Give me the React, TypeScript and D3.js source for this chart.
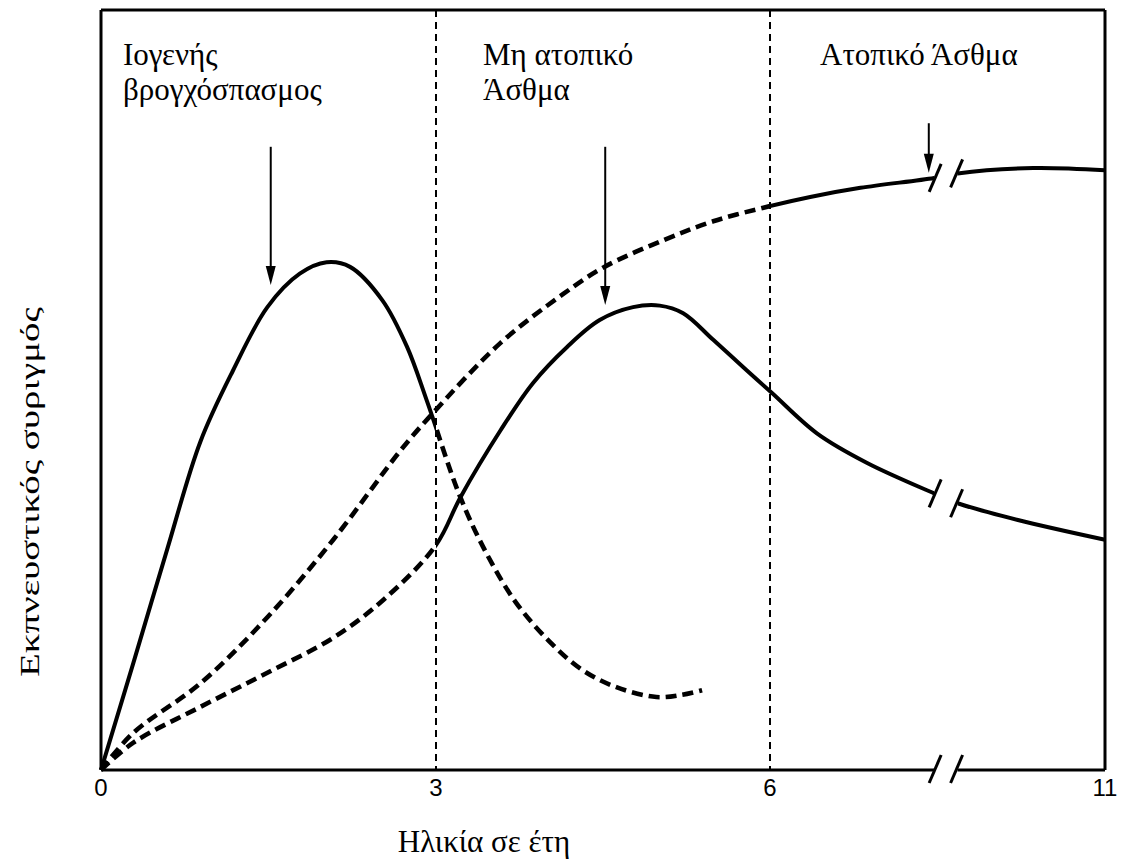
import React from "react";
import * as d3 from "d3";

type P = [number, number];

// x: age in years (broken axis after ~8.5), y: wheeze prevalence (arbitrary units 0-100)
const xTicks = [0, 3, 6, 11];
const xTickLabels = ["0", "3", "6", "11"];
const dividers = [3, 6];
const breakStart = 8.45;
const breakEnd = 8.8;

// Transient (viral) wheeze: solid until 3 years, dashed after
const transient: P[] = [
  [0, 0], [0.29, 14.1], [0.59, 28.9], [0.89, 43.2], [1.18, 52.5], [1.49, 60.9],
  [1.78, 65.3], [2.02, 66.8], [2.23, 66.2], [2.52, 61.8], [2.74, 55.7], [2.92, 48.5],
  [3.21, 36.2], [3.45, 28.6], [3.72, 22.0], [4.02, 16.9], [4.31, 13.2],
  [4.62, 10.9], [4.98, 9.6], [5.21, 9.9], [5.39, 10.5],
];
const transientSplit = 3;

// Non-atopic asthma: dashed until 3 years, solid after
const nonAtopic: P[] = [
  [0, 0], [0.29, 3.6], [0.89, 8.3], [1.49, 12.8], [2.08, 17.4], [2.53, 22.4], [3.0, 29.6],
  [3.22, 35.9], [3.58, 44.7], [3.87, 50.9], [4.18, 55.7], [4.47, 59.2],
  [4.77, 60.9], [5.01, 61.1], [5.22, 60.1], [5.49, 56.6], [5.79, 52.6], [6.03, 49.6],
  [6.7, 44.3], [7.45, 40.4], [8.45, 36.4], [8.8, 35.1], [9.7, 32.9], [11, 30.3],
];
const nonAtopicSplit = 3;

// Atopic asthma: dashed until 6 years, solid after
const atopic: P[] = [
  [0, 0], [0.29, 4.9], [0.89, 11.4], [1.49, 20.1], [2.08, 30.3], [2.68, 42.0], [2.95, 46.6],
  [3.58, 56.2], [4.14, 62.6], [4.5, 66.1], [5.04, 69.7], [5.49, 72.2], [6.0, 74.2],
  [6.6, 75.4], [7.35, 76.6], [8.45, 77.9], [8.8, 78.5], [9.93, 79.2], [11, 78.9],
];
const atopicSplit = 6;

// arrows: [x, yTop, yTip]
const arrows: [number, number, number][] = [
  [1.52, 82, 63.8],
  [4.52, 82, 61.2],
  [8.37, 85.1, 78.6],
];

const phaseLabels: { lines: string[]; x: number }[] = [
  { lines: ["Ιογενής", "βρογχόσπασμος"], x: 123 },
  { lines: ["Μη ατοπικό", "Άσθμα"], x: 483 },
  { lines: ["Ατοπικό Άσθμα"], x: 820 },
];

const xLabel = "Ηλικία σε έτη";
const yLabel = "Εκπνευστικός συριγμός";

const W = 1121;
const H = 865;
const left = 101;
const right = 1105;
const top = 10;
const bottom = 770;

const SERIF = "Liberation Serif";
const SANS = "Liberation Sans";

export default function App() {
  const x = d3.scaleLinear().domain([0, 3, 6, 11]).range([left, 436, 770, right]);
  const y = d3.scaleLinear().domain([0, 100]).range([bottom, top]);
  const line = d3
    .line<P>()
    .x((d) => x(d[0]))
    .y((d) => y(d[1]))
    .curve(d3.curveCatmullRom.alpha(0.5));

  const solidStyle = { fill: "none", stroke: "#000", strokeWidth: 4, strokeLinecap: "butt" as const };
  const dashStyle = { ...solidStyle, strokeWidth: 4.6, strokeDasharray: "11 6" };

  const xb1 = x(breakStart);
  const xb2 = x(breakEnd);

  const yAt = (data: P[], xv: number) => {
    for (let i = 1; i < data.length; i++) {
      if (data[i][0] >= xv) {
        const [x0, y0] = data[i - 1];
        const [x1, y1] = data[i];
        return y0 + ((xv - x0) / (x1 - x0)) * (y1 - y0);
      }
    }
    return data[data.length - 1][1];
  };

  const slash = (px: number, py: number, key: string, half = 14) => (
    <line key={key} x1={px - 6} y1={py + half} x2={px + 6} y2={py - half} stroke="#000" strokeWidth={3} />
  );

  const clipLeft = (id: string, xs: number) => (
    <clipPath id={id}>
      <rect x={0} y={0} width={x(xs)} height={H} />
    </clipPath>
  );
  const clipRight = (id: string, xs: number) => (
    <clipPath id={id}>
      <rect x={x(xs)} y={0} width={Math.max(0, xb1 - x(xs))} height={H} />
      <rect x={xb2} y={0} width={W - xb2} height={H} />
    </clipPath>
  );

  return (
    <svg width={W} height={H} style={{ position: "absolute", left: 0, top: 0, background: "#fff" }}>
      <defs>
        {clipLeft("tL", transientSplit)}
        {clipRight("tR", transientSplit)}
        {clipLeft("nL", nonAtopicSplit)}
        {clipRight("nR", nonAtopicSplit)}
        {clipLeft("aL", atopicSplit)}
        {clipRight("aR", atopicSplit)}
      </defs>
      <rect x={0} y={0} width={W} height={H} fill="#fff" />
      {/* frame */}
      <line x1={left} y1={top} x2={right} y2={top} stroke="#000" strokeWidth={3} />
      <line x1={left} y1={top} x2={left} y2={bottom} stroke="#000" strokeWidth={3} />
      <line x1={right} y1={top} x2={right} y2={bottom} stroke="#000" strokeWidth={3} />
      <line x1={left} y1={bottom} x2={xb1} y2={bottom} stroke="#000" strokeWidth={3} />
      <line x1={xb2} y1={bottom} x2={right} y2={bottom} stroke="#000" strokeWidth={3} />
      {slash(xb1 + 1, bottom - 1, "ax1")}
      {slash(xb2 - 1, bottom - 1, "ax2")}

      {/* phase dividers */}
      {dividers.map((d) => (
        <line key={d} x1={x(d)} y1={top} x2={x(d)} y2={bottom} stroke="#000" strokeWidth={2} strokeDasharray="7 5" />
      ))}

      {/* curves */}
      <path d={line(transient) || ""} {...solidStyle} clipPath="url(#tL)" />
      <path d={line(transient) || ""} {...dashStyle} clipPath="url(#tR)" />
      <path d={line(nonAtopic) || ""} {...dashStyle} clipPath="url(#nL)" />
      <path d={line(nonAtopic) || ""} {...solidStyle} clipPath="url(#nR)" />
      <path d={line(atopic) || ""} {...dashStyle} clipPath="url(#aL)" />
      <path d={line(atopic) || ""} {...solidStyle} clipPath="url(#aR)" />
      {slash(xb1 + 1, y(yAt(nonAtopic, breakStart)), "n1")}
      {slash(xb2 - 1, y(yAt(nonAtopic, breakEnd)), "n2")}
      {slash(xb1 + 1, y(yAt(atopic, breakStart)), "a1")}
      {slash(xb2 - 1, y(yAt(atopic, breakEnd)), "a2")}

      {/* arrows */}
      {arrows.map(([ax, y0, y1], i) => {
        const px = x(ax);
        const tip = y(y1);
        return (
          <g key={i}>
            <line x1={px} y1={y(y0)} x2={px} y2={tip - 10} stroke="#000" strokeWidth={2} />
            <path d={`M${px - 5},${tip - 19} L${px + 5},${tip - 19} L${px},${tip} Z`} fill="#000" />
          </g>
        );
      })}

      {/* phase labels */}
      {phaseLabels.map((p, i) => (
        <text key={i} x={p.x} y={65} style={{ fontFamily: SERIF, fontSize: "31px" }} fill="#000">
          {p.lines.map((l, j) => (
            <tspan key={j} x={p.x} dy={j === 0 ? 0 : 35}>
              {l}
            </tspan>
          ))}
        </text>
      ))}

      {/* tick labels */}
      {xTicks.map((t, i) => (
        <text key={t} x={x(t)} y={796} textAnchor="middle" style={{ fontFamily: SANS, fontSize: "24px" }} fill="#000">
          {xTickLabels[i]}
        </text>
      ))}

      {/* axis titles */}
      <text x={484} y={852} textAnchor="middle" style={{ fontFamily: SERIF, fontSize: "31px" }} fill="#000">
        {xLabel}
      </text>
      <text
        transform="translate(39, 492) rotate(-90)"
        textAnchor="middle"
        textLength={370}
        lengthAdjust="spacingAndGlyphs"
        style={{ fontFamily: SERIF, fontSize: "28px" }}
        fill="#000"
      >
        {yLabel}
      </text>
    </svg>
  );
}
